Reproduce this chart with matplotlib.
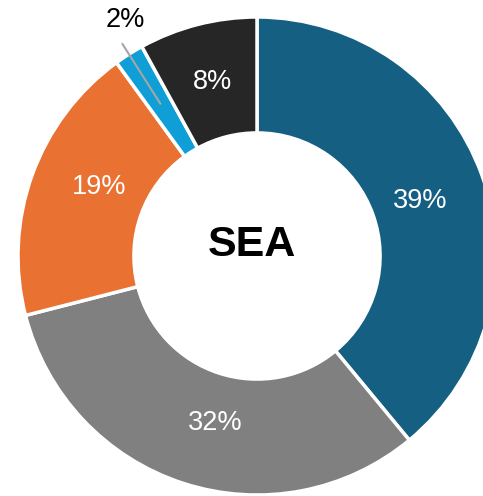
import numpy as np
import matplotlib
matplotlib.use("Agg")
import matplotlib.pyplot as plt

plt.rcParams['font.family'] = ['Liberation Sans', 'DejaVu Sans']

# データ
regions = ['A', 'B', 'C', 'D', 'E']
shares = [39, 32, 19, 2, 8]
labels = ['39%', '32%', '19%', '2%', '8%']
colors = ['#156082', '#808080', '#E97132', '#0F9ED5', '#262626']
center_label = 'SEA'
# ラベル位置の微調整 (度, 時計回り正)
label_shift = [1, -4, 4, 0, 0]

W, H = 483, 496
cx, cy, R = 257, 256, 239  # pixel center / radius

fig = plt.figure(figsize=(W / 100, H / 100), dpi=100)
ax = fig.add_axes([0, 0, 1, 1])

wedges, _ = ax.pie(shares, startangle=90, counterclock=False, colors=colors, radius=1,
                   wedgeprops=dict(width=0.485, edgecolor='white', linewidth=2.5))

# pie() が範囲を上書きするので後で設定
ax.set_aspect('auto')
ax.set_xlim(-cx / R, (W - cx) / R)
ax.set_ylim(-(H - cy) / R, cy / R)
ax.axis('off')

for w, lab, sh in zip(wedges, labels, label_shift):
    ang = np.deg2rad((w.theta1 + w.theta2) / 2 - sh)
    if lab == '2%':
        # 小さい扇形は外側にラベル
        r0, r1 = 0.755, 1.05
        ax.plot([r0 * np.cos(ang), r1 * np.cos(ang)], [r0 * np.sin(ang), r1 * np.sin(ang)],
                color='#a6a6a6', lw=1.5)
        ax.text(r1 * np.cos(ang) + 0.01, r1 * np.sin(ang) + 0.1, lab, ha='center', va='center',
                fontsize=19.5, color='black')
    else:
        r = 0.72 if lab != '8%' else 0.75
        ax.text(r * np.cos(ang), r * np.sin(ang), lab, ha='center', va='center',
                fontsize=19.5, color='white')

ax.text((252 - cx) / R, (cy - 245) / R, center_label, ha='center', va='center',
        fontsize=31, fontweight='bold', color='black')

fig.savefig('out.png', dpi=100)
